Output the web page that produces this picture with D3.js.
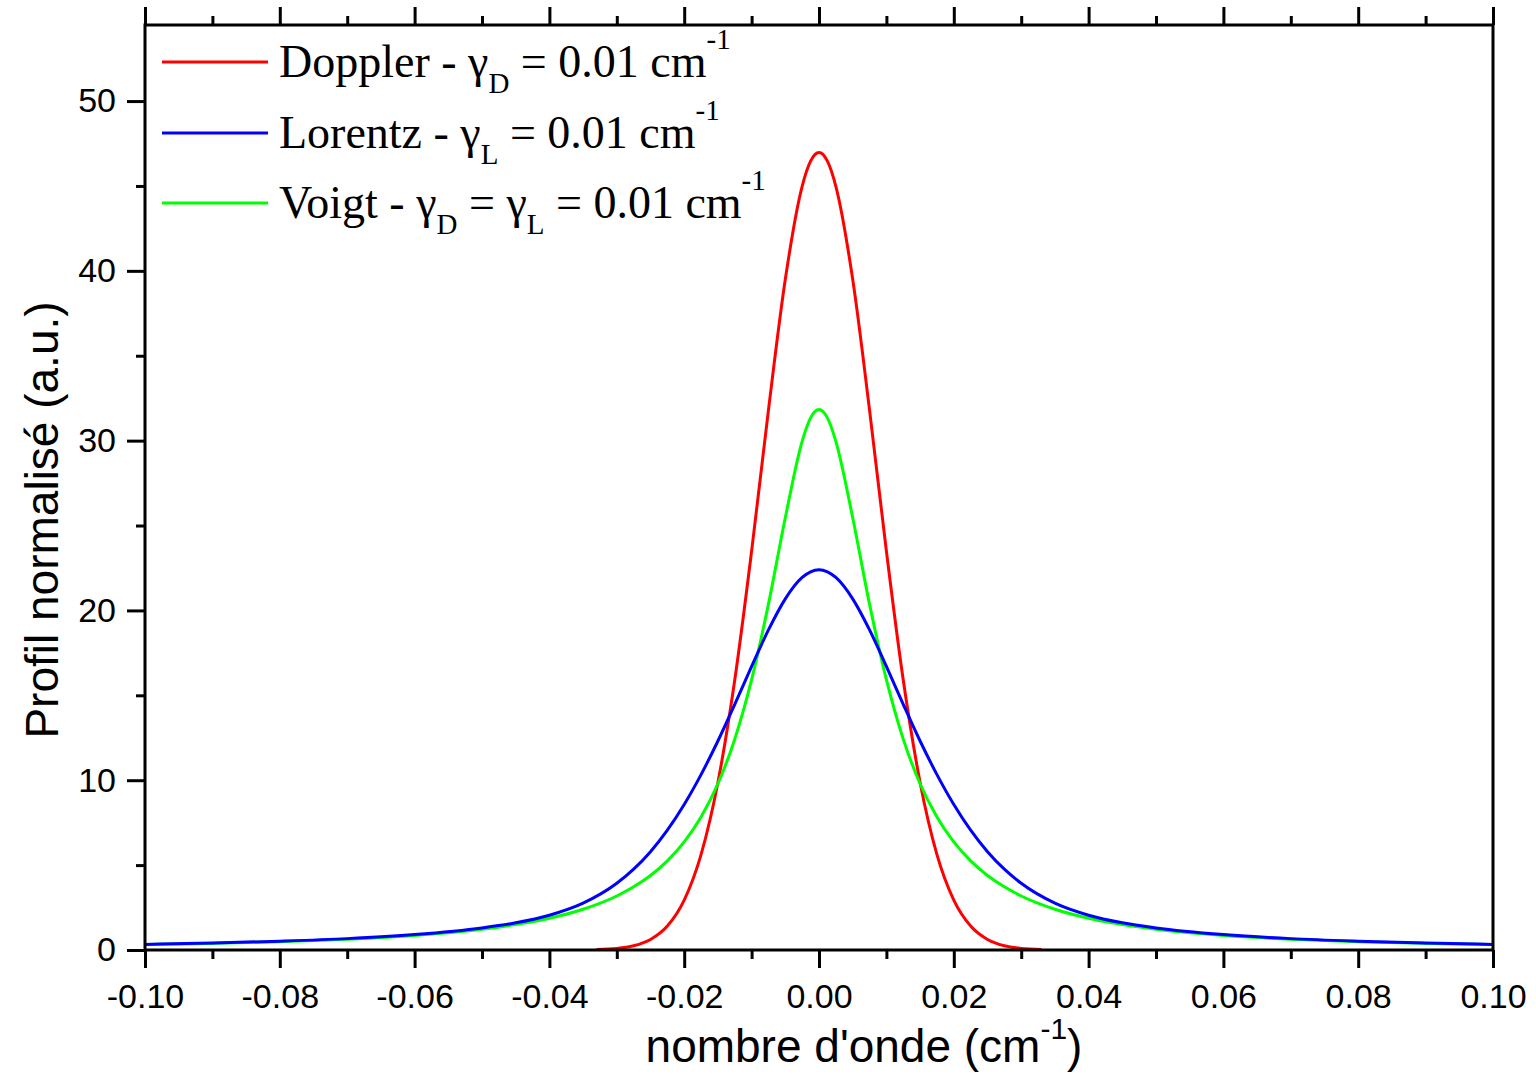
<!DOCTYPE html>
<html><head><meta charset="utf-8">
<script src="https://cdn.jsdelivr.net/npm/d3@7"></script>
<style>html,body{margin:0;padding:0;background:#fff;}svg{display:block;}</style>
</head><body>
<svg id="chart" width="1536" height="1076"></svg>
<script>
// ---- data ----
const xsWide = [-0.1,-0.09,-0.08,-0.07,-0.06,-0.05,-0.045,-0.04,-0.035,-0.03,-0.0275,-0.025,-0.0225,-0.02,-0.0175,-0.015,-0.0125,-0.01,-0.0075,-0.005,-0.0025,-0.00125,0,0.00125,0.0025,0.005,0.0075,0.01,0.0125,0.015,0.0175,0.02,0.0225,0.025,0.0275,0.03,0.035,0.04,0.045,0.05,0.06,0.07,0.08,0.09,0.1];
const blueValues = [0.33,0.41,0.52,0.67,0.91,1.30,1.60,2.05,2.76,3.93,4.76,5.79,7.06,8.57,10.33,12.31,14.47,16.70,18.85,20.68,21.94,22.27,22.39,22.27,21.94,20.68,18.85,16.70,14.47,12.31,10.33,8.57,7.06,5.79,4.76,3.93,2.76,2.05,1.60,1.30,0.91,0.67,0.52,0.41,0.33];
const greenValues = [0.32,0.39,0.49,0.64,0.86,1.22,1.50,1.87,2.40,3.18,3.72,4.39,5.25,6.37,7.84,9.79,12.42,15.92,20.37,25.46,29.96,31.34,31.83,31.34,29.96,25.46,20.37,15.92,12.42,9.79,7.84,6.37,5.25,4.39,3.72,3.18,2.40,1.87,1.50,1.22,0.86,0.64,0.49,0.39,0.32];
const xsRed = [-0.033,-0.03,-0.0275,-0.025,-0.0225,-0.02,-0.0175,-0.015,-0.0125,-0.01,-0.0075,-0.005,-0.0025,-0.00125,0,0.00125,0.0025,0.005,0.0075,0.01,0.0125,0.015,0.0175,0.02,0.0225,0.025,0.0275,0.03,0.033];
const redValues = [0.03,0.09,0.25,0.62,1.41,2.94,5.62,9.87,15.90,23.49,31.80,39.50,44.98,46.46,46.97,46.46,44.98,39.50,31.80,23.49,15.90,9.87,5.62,2.94,1.41,0.62,0.25,0.09,0.03];
const xMajorTicks = [-0.10,-0.08,-0.06,-0.04,-0.02,0.00,0.02,0.04,0.06,0.08,0.10];
const xMinorTicks = [-0.09,-0.07,-0.05,-0.03,-0.01,0.01,0.03,0.05,0.07,0.09];
const xTickLabels = ["-0.10","-0.08","-0.06","-0.04","-0.02","0.00","0.02","0.04","0.06","0.08","0.10"];
const yMajorTicks = [0,10,20,30,40,50];
const yMinorTicks = [5,15,25,35,45];
const seriesNames = ["Doppler","Lorentz","Voigt"];
const seriesColors = ["#ff0000","#0000ff","#00ff00"];

// ---- layout ----
const svg = d3.select("#chart");
const L = 145, R = 1493, T = 25, B = 950;
const x = d3.scaleLinear().domain([-0.1, 0.1]).range([L, R]);
const y = d3.scaleLinear().domain([0, 54.48]).range([B, T]);
const tickFont = "'Liberation Sans', Arial, sans-serif";

const line = d3.line().x(d => x(d[0])).y(d => y(d[1])).curve(d3.curveMonotoneX);
const plot = svg.append("g");
plot.append("path").datum(xsRed.map((v,i)=>[v,redValues[i]]))
  .attr("d", line).attr("fill","none").attr("stroke",seriesColors[0]).attr("stroke-width",3);
plot.append("path").datum(xsWide.map((v,i)=>[v,greenValues[i]]))
  .attr("d", line).attr("fill","none").attr("stroke",seriesColors[2]).attr("stroke-width",3);
plot.append("path").datum(xsWide.map((v,i)=>[v,blueValues[i]]))
  .attr("d", line).attr("fill","none").attr("stroke",seriesColors[1]).attr("stroke-width",3);

function styleAxis(g){
  g.selectAll(".domain").remove();
  g.selectAll(".tick line").attr("stroke","#000").attr("stroke-width",3);
  g.selectAll(".tick text").attr("font-family",tickFont).attr("font-size",34).attr("fill","#000");
}
// bottom
svg.append("g").attr("transform",`translate(0,${B})`)
  .call(d3.axisBottom(x).tickValues(xMajorTicks).tickSize(18).tickPadding(16)
    .tickFormat((d,i)=>xTickLabels[i]))
  .call(styleAxis);
svg.append("g").attr("transform",`translate(0,${B})`)
  .call(d3.axisBottom(x).tickValues(xMinorTicks).tickSize(9).tickFormat(""))
  .call(styleAxis);
// top
svg.append("g").attr("transform",`translate(0,${T})`)
  .call(d3.axisTop(x).tickValues(xMajorTicks).tickSize(18).tickFormat(""))
  .call(styleAxis);
svg.append("g").attr("transform",`translate(0,${T})`)
  .call(d3.axisTop(x).tickValues(xMinorTicks).tickSize(9).tickFormat(""))
  .call(styleAxis);
// left
svg.append("g").attr("transform",`translate(${L},0)`)
  .call(d3.axisLeft(y).tickValues(yMajorTicks).tickSize(18).tickPadding(11).tickFormat(d3.format("d")))
  .call(styleAxis);
svg.append("g").attr("transform",`translate(${L},0)`)
  .call(d3.axisLeft(y).tickValues(yMinorTicks).tickSize(9).tickFormat(""))
  .call(styleAxis);

// frame
svg.append("rect").attr("x",L).attr("y",T).attr("width",R-L).attr("height",B-T)
  .attr("fill","none").attr("stroke","#000").attr("stroke-width",3);

// axis titles
const xt = svg.append("text").attr("x",864).attr("y",1062).attr("text-anchor","middle")
  .attr("font-family",tickFont).attr("font-size",46).attr("fill","#000");
xt.append("tspan").text("nombre d'onde (cm");
xt.append("tspan").attr("font-size",30).attr("dy",-23).text("-1");
xt.append("tspan").attr("dy",23).text(")");

svg.append("text").attr("transform","translate(58,520) rotate(-90)").attr("text-anchor","middle")
  .attr("font-family",tickFont).attr("font-size",46).attr("fill","#000")
  .text("Profil normalisé (a.u.)");

// legend
const serif = "'Liberation Serif', 'Times New Roman', serif";
const legendRows = [
  [["Doppler - γ",0],["D",1],[" = 0.01 cm",0],["-1",2]],
  [["Lorentz - γ",0],["L",1],[" = 0.01 cm",0],["-1",2]],
  [["Voigt - γ",0],["D",1],[" = γ",0],["L",1],[" = 0.01 cm",0],["-1",2]]
];
const legendY = [62,133,203];
legendRows.forEach((row,i)=>{
  const g = svg.append("g");
  g.append("line").attr("x1",162).attr("x2",268).attr("y1",legendY[i]).attr("y2",legendY[i])
    .attr("stroke",seriesColors[i]).attr("stroke-width",3);
  const t = g.append("text").attr("x",279).attr("y",legendY[i]+15)
    .attr("font-family",serif).attr("font-size",46).attr("fill","#000");
  let shift = 0;
  row.forEach(([s,k])=>{
    const target = k===1 ? 16 : (k===2 ? -28 : 0);
    t.append("tspan").attr("dy", target - shift).attr("font-size", k===0?46:29).text(s);
    shift = target;
  });
});
</script>
</body></html>
